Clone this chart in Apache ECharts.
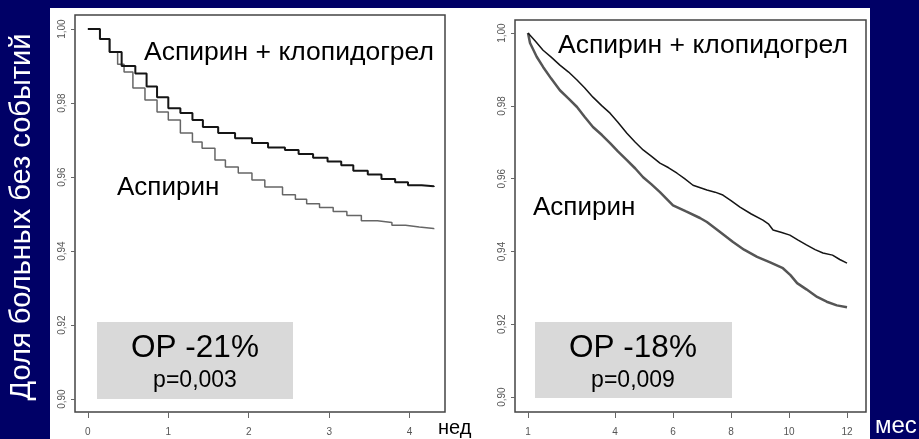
<!DOCTYPE html>
<html>
<head>
<meta charset="utf-8">
<script src="https://cdn.jsdelivr.net/npm/echarts@6/dist/echarts.min.js"></script>
<style>
  html, body { margin: 0; padding: 0; background: #000066; }
  #chart { width: 919px; height: 439px; }
</style>
</head>
<body>
<div id="chart"></div>
<script>
// Kaplan–Meier curves: share of patients free of events
// Left panel: weeks, step curves
const weeksCombo = [0, 0.15, 0.27, 0.42, 0.59, 0.73, 0.86, 1.0, 1.15, 1.30, 1.43, 1.62, 1.83, 2.04, 2.24, 2.45, 2.62, 2.80, 2.98, 3.15, 3.30, 3.48, 3.65, 3.82, 3.98, 4.15, 4.30];
const survCombo  = [1.000, 0.9973, 0.9938, 0.9900, 0.9880, 0.9845, 0.9816, 0.9786, 0.9773, 0.9754, 0.9735, 0.9719, 0.9705, 0.9692, 0.9680, 0.9673, 0.9662, 0.9652, 0.9642, 0.9632, 0.9617, 0.9607, 0.9595, 0.9586, 0.9578, 0.9575, 0.9573];

const weeksAsp = [0, 0.15, 0.27, 0.37, 0.45, 0.56, 0.71, 0.86, 1.0, 1.15, 1.30, 1.42, 1.58, 1.71, 1.87, 2.04, 2.20, 2.42, 2.58, 2.72, 2.88, 3.05, 3.22, 3.40, 3.60, 3.78, 3.95, 4.12, 4.30];
const survAsp  = [1.000, 0.9973, 0.9938, 0.9905, 0.9884, 0.9841, 0.9808, 0.9776, 0.9754, 0.9719, 0.9695, 0.9678, 0.9646, 0.9627, 0.9611, 0.9592, 0.9573, 0.9552, 0.9540, 0.9528, 0.9518, 0.9507, 0.9496, 0.9482, 0.9477, 0.9470, 0.9465, 0.9461, 0.9459];

// Right panel: months
const monthsCombo = [1, 1.25, 1.52, 1.80, 2.10, 2.40, 2.69, 2.95, 3.24, 3.55, 3.83, 4.10, 4.41, 4.70, 4.97, 5.25, 5.55, 5.85, 6.14, 6.40, 6.69, 7.17, 7.45, 7.72, 8.00, 8.31, 8.70, 9.10, 9.30, 9.45, 9.75, 10.03, 10.30, 10.60, 10.90, 11.17, 11.50, 11.75, 12.0];
const monthsCombo_v = [1.000, 0.9978, 0.9953, 0.9934, 0.9912, 0.9893, 0.9871, 0.9850, 0.9824, 0.9800, 0.9780, 0.9755, 0.9725, 0.9700, 0.9679, 0.9662, 0.9643, 0.9630, 0.9615, 0.9600, 0.9582, 0.9569, 0.9563, 0.9555, 0.9540, 0.9522, 0.9503, 0.9486, 0.9475, 0.9459, 0.9452, 0.9445, 0.9432, 0.9418, 0.9405, 0.9396, 0.9390, 0.9378, 0.9368];

const monthsAsp = [1, 1.07, 1.30, 1.52, 1.80, 2.10, 2.40, 2.69, 2.95, 3.24, 3.55, 3.83, 4.10, 4.41, 4.70, 4.97, 5.25, 5.55, 6.0, 6.45, 6.93, 7.17, 7.60, 8.07, 8.45, 8.90, 9.35, 9.79, 10.05, 10.28, 10.60, 10.97, 11.30, 11.65, 12.0];
const monthsAsp_v = [1.000, 0.9973, 0.9935, 0.9907, 0.9875, 0.9843, 0.9820, 0.9797, 0.9770, 0.9742, 0.9720, 0.9698, 0.9675, 0.9651, 0.9628, 0.9604, 0.9585, 0.9563, 0.9527, 0.9510, 0.9492, 0.9481, 0.9455, 0.9426, 0.9405, 0.9385, 0.9370, 0.9354, 0.9335, 0.9313, 0.9296, 0.9275, 0.9262, 0.9252, 0.9247];

const yTicks = [0.90, 0.92, 0.94, 0.96, 0.98, 1.00];
const weekTicks = [0, 1, 2, 3, 4];
const monthTicks = [1, 4, 6, 8, 10, 12];

const labelCombo = 'Аспирин + клопидогрел';
const labelAsp = 'Аспирин';
const yTitle = 'Доля больных без событий';
const boxLeft = ['ОР -21%', 'р=0,003'];
const boxRight = ['ОР -18%', 'р=0,009'];
const unitWeeks = 'нед';
const unitMonths = 'мес';

const zip = (xs, ys) => xs.map((x, i) => [x, ys[i]]);
const FONT = '"Liberation Sans", Arial, sans-serif';

function xAxisOf(gridIndex, min, max, ticks) {
  return {
    gridIndex, type: 'value', min, max,
    axisLine: { show: false, onZero: false },
    splitLine: { show: false },
    axisTick: { show: true, customValues: ticks, length: 6, lineStyle: { color: '#666', width: 1 } },
    axisLabel: { customValues: ticks, fontSize: 10, color: '#555', margin: 15, fontFamily: FONT }
  };
}
function yAxisOf(gridIndex, min, max) {
  return {
    gridIndex, type: 'value', min, max,
    axisLine: { show: false, onZero: false },
    splitLine: { show: false },
    axisTick: { show: true, customValues: yTicks, length: 4, lineStyle: { color: '#666', width: 1 } },
    axisLabel: {
      customValues: yTicks, rotate: 90, fontSize: 10, color: '#555', margin: 8, fontFamily: FONT,
      formatter: v => v.toFixed(2).replace('.', ',')
    }
  };
}

function text(x, y, str, size, color, align, extra) {
  return Object.assign({
    type: 'text', x, y, z: 10,
    style: { text: str, font: size + 'px ' + FONT, fill: color, align: align || 'left', verticalAlign: 'middle' }
  }, extra || {});
}

const chart = echarts.init(document.getElementById('chart'), null, { renderer: 'canvas' });
chart.setOption({
  backgroundColor: '#000066',
  animation: false,
  grid: [
    { left: 75, top: 15, width: 370, height: 397, show: true, borderColor: '#444', borderWidth: 1.5, backgroundColor: 'transparent' },
    { left: 515, top: 20, width: 351, height: 392, show: true, borderColor: '#444', borderWidth: 1.5, backgroundColor: 'transparent' }
  ],
  xAxis: [
    xAxisOf(0, -0.16, 4.44, weekTicks),
    xAxisOf(1, 0.552, 12.655, monthTicks)
  ],
  yAxis: [
    yAxisOf(0, 0.8965, 1.0038),
    yAxisOf(1, 0.8959, 1.0036)
  ],
  series: [
    { type: 'line', xAxisIndex: 0, yAxisIndex: 0, step: 'end', showSymbol: false, z: 3,
      data: zip(weeksAsp, survAsp), lineStyle: { color: '#666', width: 1.5 } },
    { type: 'line', xAxisIndex: 0, yAxisIndex: 0, step: 'end', showSymbol: false, z: 4,
      data: zip(weeksCombo, survCombo), lineStyle: { color: '#151515', width: 2 } },
    { type: 'line', xAxisIndex: 1, yAxisIndex: 1, showSymbol: false, z: 3,
      data: zip(monthsAsp, monthsAsp_v), lineStyle: { color: '#555', width: 2.5 } },
    { type: 'line', xAxisIndex: 1, yAxisIndex: 1, showSymbol: false, z: 4,
      data: zip(monthsCombo, monthsCombo_v), lineStyle: { color: '#151515', width: 1.5 } }
  ],
  graphic: [
    { type: 'rect', z: -10, shape: { x: 50, y: 8, width: 820, height: 431 }, style: { fill: '#ffffff' } },
    { type: 'rect', z: 5, shape: { x: 97, y: 322, width: 196, height: 77 }, style: { fill: '#d9d9d9' } },
    { type: 'rect', z: 5, shape: { x: 535, y: 322, width: 197, height: 76 }, style: { fill: '#d9d9d9' } },
    text(144, 53, labelCombo, 26.5, '#000'),
    text(117, 188, labelAsp, 26, '#000'),
    text(558, 46, labelCombo, 26.5, '#000'),
    text(533, 208, labelAsp, 26, '#000'),
    text(195, 348, boxLeft[0], 31.5, '#000', 'center'),
    text(195, 381, boxLeft[1], 23, '#000', 'center'),
    text(633, 348, boxRight[0], 31.5, '#000', 'center'),
    text(633, 381, boxRight[1], 23, '#000', 'center'),
    text(438, 428, unitWeeks, 20, '#000'),
    text(875, 426, unitMonths, 24, '#fff'),
    text(22, 217, yTitle, 29, '#fff', 'center', { rotation: Math.PI / 2 })
  ]
});
</script>
</body>
</html>
